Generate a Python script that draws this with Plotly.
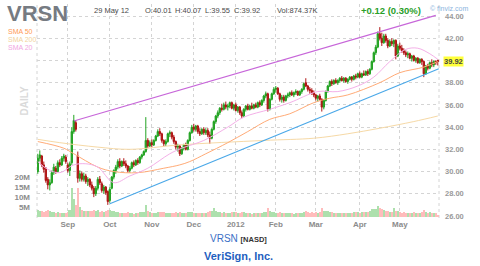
import plotly.graph_objects as go

# ---------------- data ----------------
opens = [
    30.0, 31.2, 31.4, 30.6, 30.3, 29.3, 28.8, 29.0, 29.9, 30.3,
    30.0, 30.8, 30.6, 31.2, 31.3, 30.6, 30.1, 30.8, 33.6, 34.4,
    31.4, 29.4, 29.8, 29.3, 29.6, 29.1, 29.3, 28.8, 28.5, 28.0,
    28.5, 29.3, 28.9, 28.3, 28.6, 28.2, 27.4, 28.5, 29.5, 30.1,
    30.4, 30.9, 30.5, 30.9, 30.7, 30.5, 30.1, 30.3, 30.8, 30.6,
    31.0, 30.8, 31.3, 31.5, 31.8, 32.8, 32.3, 32.6, 32.4, 32.8,
    33.2, 33.6, 33.4, 32.8, 32.5, 32.7, 33.4, 33.5, 33.1, 32.7,
    32.2, 32.3, 31.6, 32.1, 32.4, 32.0, 32.8, 33.5, 34.0, 33.8,
    34.1, 33.6, 33.4, 33.8, 33.5, 33.7, 33.3, 33.0, 33.8, 34.5,
    35.0, 35.3, 35.7, 35.6, 36.0, 35.8, 35.9, 36.2, 35.7, 36.0,
    35.5, 35.8, 35.3, 35.0, 35.6, 35.9, 35.6, 35.9, 35.7, 36.0,
    35.8, 36.2, 36.0, 36.4, 36.8, 37.0, 35.6, 36.5, 37.0, 37.4,
    37.5, 37.0, 36.5, 36.7, 36.4, 36.8, 36.9, 37.1, 36.9, 37.1,
    37.2, 36.9, 37.2, 37.4, 38.0, 37.7, 37.4, 37.3, 37.1, 36.9,
    36.6, 36.8, 36.5, 35.8, 36.4, 37.2, 37.7, 38.1, 37.9, 38.2,
    38.0, 38.2, 38.4, 38.2, 38.4, 38.1, 38.3, 38.5, 38.3, 38.6,
    38.5, 38.8, 38.5, 38.8, 38.7, 39.0, 38.8, 39.2, 39.9, 40.7,
    41.2, 42.4, 42.0, 41.6, 42.2, 41.8, 41.3, 41.7, 41.5, 41.8,
    40.4, 41.3, 41.1, 40.9, 40.7, 40.5, 40.6, 40.2, 40.4, 40.0,
    40.2, 39.8, 40.1, 39.9, 38.8, 39.5, 39.3, 39.8, 39.6, 39.9,
    40.01,
]
highs = [
    31.6, 31.9, 31.5, 30.9, 30.4, 29.5, 29.3, 30.1, 30.7, 30.5,
    31.0, 31.1, 31.4, 31.6, 31.5, 30.8, 30.9, 34.0, 35.1, 34.6,
    31.8, 30.1, 30.0, 29.9, 29.8, 29.5, 29.4, 29.1, 28.7, 28.7,
    29.5, 29.6, 29.1, 28.8, 28.7, 28.3, 28.6, 29.6, 30.2, 30.6,
    31.1, 31.2, 31.0, 31.2, 31.0, 30.6, 30.5, 30.9, 31.0, 31.1,
    31.2, 31.4, 31.6, 31.9, 34.9, 33.0, 32.8, 32.9, 32.9, 33.3,
    33.8, 33.9, 33.5, 32.9, 32.9, 33.5, 33.7, 33.6, 33.3, 32.8,
    32.5, 32.4, 32.2, 32.5, 32.6, 32.9, 33.6, 34.2, 34.3, 34.2,
    34.2, 33.9, 33.9, 34.0, 33.9, 33.9, 33.6, 33.9, 34.6, 35.1,
    35.5, 35.8, 36.1, 36.2, 36.3, 36.1, 36.3, 36.3, 36.1, 36.2,
    35.9, 35.9, 35.5, 35.7, 36.0, 36.1, 36.0, 36.2, 36.1, 36.2,
    36.3, 36.4, 36.5, 36.9, 37.2, 37.1, 36.6, 37.1, 37.6, 37.7,
    37.6, 37.1, 36.9, 36.9, 36.9, 37.1, 37.2, 37.3, 37.2, 37.4,
    37.3, 37.3, 37.5, 38.0, 38.4, 37.8, 37.6, 37.5, 37.3, 37.0,
    36.9, 37.0, 36.6, 36.5, 37.3, 37.8, 38.2, 38.3, 38.3, 38.4,
    38.3, 38.5, 38.6, 38.5, 38.5, 38.4, 38.6, 38.6, 38.7, 38.8,
    38.9, 39.0, 38.9, 39.1, 39.1, 39.2, 39.3, 40.0, 40.8, 41.4,
    42.6, 43.0, 42.5, 42.4, 42.4, 42.0, 41.9, 42.0, 41.9, 41.9,
    41.5, 41.6, 41.4, 41.1, 40.9, 40.8, 40.7, 40.5, 40.5, 40.3,
    40.3, 40.2, 40.2, 40.0, 39.6, 39.7, 39.9, 40.1, 40.0, 40.0,
    40.07,
]
lows = [
    29.8, 30.9, 30.4, 29.9, 29.0, 28.4, 28.3, 28.9, 29.7, 29.8,
    29.9, 30.4, 30.5, 30.9, 30.7, 29.9, 29.6, 30.6, 33.4, 33.6,
    29.0, 29.1, 29.1, 29.1, 28.9, 28.7, 28.6, 28.3, 27.7, 27.8,
    28.3, 28.8, 28.1, 28.0, 27.9, 27.0, 27.2, 28.4, 29.3, 29.8,
    30.2, 30.3, 30.4, 30.5, 30.3, 29.9, 29.9, 30.2, 30.4, 30.5,
    30.6, 30.7, 31.1, 31.4, 31.7, 32.1, 32.2, 32.2, 32.3, 32.7,
    33.1, 33.2, 32.6, 32.3, 32.3, 32.6, 33.1, 32.9, 32.5, 32.0,
    31.8, 31.4, 31.5, 31.9, 31.9, 31.9, 32.7, 33.4, 33.6, 33.6,
    33.4, 33.2, 33.3, 33.3, 33.3, 33.1, 32.5, 32.9, 33.7, 34.3,
    34.8, 35.1, 35.4, 35.5, 35.6, 35.5, 35.7, 35.6, 35.5, 35.4,
    35.3, 35.1, 34.8, 34.9, 35.4, 35.5, 35.5, 35.6, 35.6, 35.7,
    35.7, 35.8, 35.9, 36.2, 36.6, 35.4, 35.5, 36.4, 36.9, 37.1,
    36.9, 36.3, 36.2, 36.2, 36.3, 36.6, 36.7, 36.8, 36.7, 36.9,
    36.8, 36.8, 37.0, 37.3, 37.6, 37.2, 37.0, 36.9, 36.7, 36.4,
    36.3, 36.4, 35.4, 35.6, 36.3, 37.1, 37.6, 37.7, 37.8, 37.9,
    37.8, 38.0, 38.1, 38.0, 38.0, 37.9, 38.2, 38.1, 38.2, 38.3,
    38.4, 38.4, 38.4, 38.6, 38.6, 38.6, 38.7, 39.1, 39.8, 40.5,
    41.1, 41.8, 41.3, 41.5, 41.6, 41.1, 41.2, 41.3, 41.2, 40.1,
    40.3, 40.9, 40.7, 40.5, 40.3, 40.2, 40.1, 39.9, 39.9, 39.8,
    39.7, 39.7, 39.6, 38.5, 38.7, 39.1, 39.2, 39.4, 39.4, 39.6,
    39.55,
]
closes = [
    31.2, 31.5, 30.6, 30.2, 29.2, 28.8, 29.0, 29.9, 30.4, 30.0,
    30.8, 30.6, 31.2, 31.4, 30.9, 30.1, 30.7, 33.6, 34.6, 33.8,
    29.4, 29.8, 29.3, 29.6, 29.1, 29.3, 28.8, 28.5, 28.0, 28.5,
    29.3, 29.0, 28.3, 28.6, 28.1, 27.3, 28.4, 29.5, 30.1, 30.4,
    30.9, 30.5, 30.9, 30.7, 30.5, 30.1, 30.3, 30.8, 30.6, 31.0,
    30.8, 31.3, 31.5, 31.8, 32.8, 32.3, 32.6, 32.4, 32.8, 33.2,
    33.6, 33.4, 32.8, 32.5, 32.7, 33.4, 33.5, 33.1, 32.7, 32.2,
    32.3, 31.6, 32.1, 32.4, 32.0, 32.8, 33.5, 34.0, 33.8, 34.1,
    33.6, 33.4, 33.8, 33.5, 33.7, 33.3, 33.0, 33.8, 34.5, 35.0,
    35.3, 35.7, 35.6, 36.0, 35.8, 35.9, 36.2, 35.7, 36.0, 35.5,
    35.8, 35.3, 35.0, 35.6, 35.9, 35.6, 35.9, 35.7, 36.0, 35.8,
    36.2, 36.0, 36.4, 36.8, 37.0, 35.6, 36.5, 37.0, 37.4, 37.5,
    37.0, 36.5, 36.7, 36.4, 36.8, 36.9, 37.1, 36.9, 37.1, 37.2,
    36.9, 37.2, 37.4, 37.9, 37.7, 37.4, 37.3, 37.1, 36.9, 36.6,
    36.8, 36.5, 35.8, 36.4, 37.2, 37.7, 38.1, 37.9, 38.2, 38.0,
    38.2, 38.4, 38.2, 38.4, 38.1, 38.3, 38.5, 38.3, 38.6, 38.5,
    38.8, 38.5, 38.8, 38.7, 39.0, 38.8, 39.2, 39.9, 40.7, 41.2,
    42.4, 42.0, 41.6, 42.2, 41.8, 41.3, 41.7, 41.5, 41.8, 40.4,
    41.3, 41.1, 40.9, 40.7, 40.5, 40.6, 40.2, 40.4, 40.0, 40.2,
    39.8, 40.1, 39.9, 38.8, 39.5, 39.3, 39.8, 39.6, 39.9, 39.8,
    39.92,
]
volumes_m = [
    3.5, 2.8, 3.0, 2.6, 3.2, 3.4, 2.9, 2.7, 2.4, 2.1,
    2.3, 1.9, 2.2, 2.0, 2.1, 2.4, 3.5, 14.5, 9.0, 6.0,
    14.5, 5.0, 3.6, 3.0, 3.2, 2.8, 3.1, 2.9, 3.4, 3.0,
    3.5, 2.7, 3.0, 2.5, 2.8, 3.6, 3.5, 3.2, 3.0, 2.6,
    2.5, 2.2, 2.0, 1.9, 2.1, 2.4, 2.0, 1.8, 1.7, 1.9,
    2.0, 2.3, 2.5, 2.6, 6.0, 3.2, 2.4, 2.2, 2.0, 2.2,
    2.4, 2.3, 2.6, 2.3, 2.0, 2.1, 1.9, 2.0, 2.2, 2.3,
    2.0, 2.5, 2.1, 1.9, 2.0, 2.3, 2.6, 2.7, 2.2, 2.0,
    2.1, 1.9, 2.0, 2.2, 1.9, 2.3, 3.0, 2.8, 4.5, 3.2,
    2.6, 2.4, 2.1, 2.3, 2.0, 1.9, 2.2, 2.4, 2.5, 2.3,
    2.0, 2.2, 2.6, 2.4, 2.1, 1.9, 1.8, 1.7, 1.9, 2.0,
    2.1, 1.9, 2.2, 2.4, 2.6, 4.5, 3.0, 2.6, 2.5, 2.2,
    2.1, 2.3, 2.0, 1.9, 2.0, 1.8, 1.9, 1.8, 1.7, 1.9,
    2.0, 1.8, 2.1, 2.6, 2.8, 2.3, 2.1, 2.4, 2.2, 2.5,
    2.2, 2.6, 4.5, 3.0, 3.2, 2.8, 2.6, 2.3, 2.1, 2.0,
    1.9, 2.0, 1.8, 1.9, 2.0, 1.8, 2.1, 2.0, 2.3, 2.4,
    2.6, 2.2, 2.5, 2.3, 2.7, 2.4, 3.0, 3.8, 4.2, 4.0,
    5.5, 4.5, 3.8, 3.5, 3.0, 2.8, 2.6, 2.4, 4.5, 3.2,
    2.8, 2.3, 2.2, 2.4, 2.1, 2.0, 2.2, 2.0, 2.3, 2.1,
    2.2, 2.0, 2.4, 3.4, 2.7, 2.2, 2.3, 2.0, 1.9, 1.8,
    0.87,
]

# moving averages, read at sample sessions
sma20_idx = [0, 5, 11, 18, 24, 30, 38, 46, 55, 66, 72, 83, 95, 103, 116, 126, 140, 150, 160, 168, 176, 184, 190, 196, 200]
sma20_val = [30.9, 30.2, 29.9, 30.6, 30.7, 30.4, 29.0, 29.6, 30.3, 31.6, 32.1, 32.8, 34.0, 34.9, 35.6, 36.2, 37.2, 37.2, 37.7, 38.5, 39.9, 41.0, 41.1, 40.6, 40.1]
sma50_idx = [0, 13, 18, 30, 38, 50, 63, 71, 76, 84, 95, 105, 116, 126, 138, 146, 155, 171, 181, 193, 200]
sma50_val = [32.7, 32.1, 31.6, 30.4, 30.0, 29.9, 30.3, 30.6, 30.9, 31.6, 32.6, 33.6, 34.7, 35.2, 36.2, 36.6, 36.9, 38.0, 38.9, 39.4, 39.9]
sma200_idx = [0, 11, 30, 46, 71, 113, 138, 155, 171, 188, 200]
sma200_val = [32.9, 32.6, 32.2, 32.0, 32.4, 32.8, 33.0, 33.4, 33.9, 34.5, 35.0]

# trend lines (session, price)
upper_trend_idx = [18, 199]
upper_trend_val = [34.55, 44.05]
lower_trend_idx = [36, 200.5]
lower_trend_val = [27.1, 39.25]

month_idx = [15, 36, 57, 78, 99, 119, 139, 161, 181]
month_labels = ["Sep", "Oct", "Nov", "Dec", "2012", "Feb", "Mar", "Apr", "May"]
price_ticks = [26, 28, 30, 32, 34, 36, 38, 40, 42, 44]
vol_ticks = [5, 10, 15, 20]
vol_labels = ["5M", "10M", "15M", "20M"]
last_close = 39.92

# ---------------- figure ----------------
W, H = 480, 266
ML, MR, MT, MB = 37, 41, 4, 48
PW, PH = W - ML - MR, H - MT - MB


def px_x(p):
    return (p - ML) / PW


def px_y(p):
    return (H - MB - p) / PH


FONT = "Liberation Sans, Arial, sans-serif"
UP, DOWN = "#22a322", "#b01414"

idx = list(range(len(closes)))
vol_colors = ["#ade0ad" if c >= o else "#ffbcbc" for o, c in zip(opens, closes)]

fig = go.Figure()
fig.add_trace(go.Bar(x=idx, y=volumes_m, marker=dict(color=vol_colors, line=dict(width=0)),
                     width=1.0, yaxis="y", hoverinfo="skip"))
fig.add_trace(go.Scatter(x=sma200_idx, y=sma200_val, mode="lines", yaxis="y2",
                         line=dict(color="#f6d9a6", width=1, shape="spline")))
fig.add_trace(go.Scatter(x=sma50_idx, y=sma50_val, mode="lines", yaxis="y2",
                         line=dict(color="#ffab77", width=1, shape="spline")))
fig.add_trace(go.Scatter(x=sma20_idx, y=sma20_val, mode="lines", yaxis="y2",
                         line=dict(color="#f4b0e8", width=1, shape="spline")))
fig.add_trace(go.Scatter(x=upper_trend_idx, y=upper_trend_val, mode="lines", yaxis="y2",
                         line=dict(color="#c766d9", width=1.2)))
fig.add_trace(go.Scatter(x=lower_trend_idx, y=lower_trend_val, mode="lines", yaxis="y2",
                         line=dict(color="#4aa8e8", width=1.2)))
fig.add_trace(go.Candlestick(x=idx, open=opens, high=highs, low=lows, close=closes, yaxis="y2",
                             whiskerwidth=0,
                             increasing=dict(line=dict(color=UP, width=1), fillcolor=UP),
                             decreasing=dict(line=dict(color=DOWN, width=1), fillcolor=DOWN)))

grid = dict(showgrid=True, gridcolor="#d4d4d4", griddash="dot", gridwidth=1)
fig.update_layout(
    width=W, height=H, autosize=False,
    margin=dict(l=ML, r=MR, t=MT, b=MB, pad=0),
    paper_bgcolor="white", plot_bgcolor="white",
    showlegend=False, bargap=0, boxgap=0.05,
    font=dict(family=FONT, size=8, color="#888"),
    xaxis=dict(range=[-0.4, 200.6], tickmode="array", tickvals=month_idx, ticktext=month_labels,
               ticks="", zeroline=False, showline=False,
               tickfont=dict(size=8, color="#8c8c8c", weight="bold"),
               rangeslider=dict(visible=False), fixedrange=True, **grid),
    yaxis=dict(range=[-0.5, 106.5], side="left", tickmode="array", tickvals=vol_ticks,
               ticktext=vol_labels, showgrid=False, zeroline=False, ticks="",
               ticklabelstandoff=6,
               tickfont=dict(size=8, color="#8c8c8c", weight="bold")),
    yaxis2=dict(range=[25.82, 45.08], overlaying="y", side="right", tickmode="array",
                tickvals=price_ticks,
                ticktext=["" if v == 40 else f"{v:.2f}" for v in price_ticks],
                zeroline=False, ticks="", ticklabelstandoff=5,
                tickfont=dict(size=7.5, color="#9a9a9a", weight="bold"), **grid),
)

# dotted frame at the left and right edges
for xx in (0, 1):
    fig.add_shape(type="line", xref="paper", yref="paper", x0=xx, x1=xx, y0=0, y1=1,
                  line=dict(color="#d4d4d4", width=1, dash="dot"), layer="below")


def note(text, x, y, size=8, color="#555", xanchor="left", weight="normal", **kw):
    fig.add_annotation(text=text, xref="paper", yref="paper", x=px_x(x), y=px_y(y),
                       xanchor=xanchor, yanchor="middle", showarrow=False,
                       font=dict(family=kw.pop("family", FONT), size=size, color=color, weight=weight), **kw)


note("VRSN", 5, 13.5, size=22, color="#767b82", weight="bold")
note("29 May 12", 92, 10, size=7.5, color="#4a4a4a")
note("O:40.01", 143, 10, size=7.5, color="#4a4a4a")
note("H:40.07", 173, 10, size=7.5, color="#4a4a4a")
note("L:39.55", 203, 10, size=7.5, color="#4a4a4a")
note("C:39.92", 232, 10, size=7.5, color="#4a4a4a")
note("Vol:874.37K", 275, 10, size=7.5, color="#4a4a4a")
note("+0.12 (0.30%)", 359, 10, size=9.5, color="#2aa02a", weight="bold")
note("© finviz.com", 428, 8, size=7, color="#8ab4de")
note("SMA 50", 6, 31.5, size=7, color="#ff9a55")
note("SMA 200", 6, 39.5, size=7, color="#f2d39e")
note("SMA 20", 6, 47.5, size=7, color="#f0a6e2")
note("DAILY", 23.5, 101, size=10, color="#dadada", xanchor="center", weight="bold", textangle=-90)
note("VRSN <span style='font-size:7.5px;color:#333333'><b>[NASD]</b></span>", 238, 238,
     size=10, color="#3a6fc6", xanchor="center")
note("VeriSign, Inc.", 238.5, 255.5, size=11, color="#1f5fbf", xanchor="center", weight="bold")

# highlighted last price on the price scale
fig.add_annotation(text=f"<b>{last_close:.2f}</b>", xref="paper", yref="y2", x=px_x(443), y=last_close,
                   xanchor="left", yanchor="middle", showarrow=False, bgcolor="#ffff3a",
                   borderpad=0, font=dict(family=FONT, size=7.5, color="#444"))

fig.write_html("out.html")
